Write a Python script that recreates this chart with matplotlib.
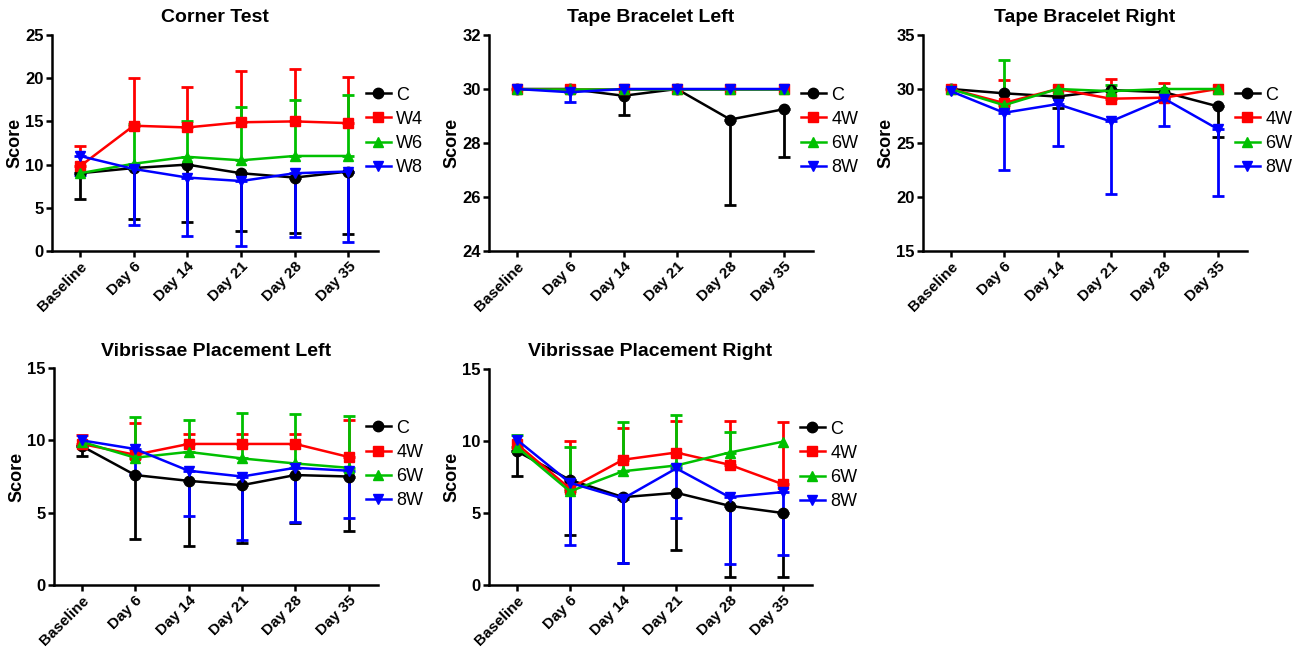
import numpy as np
import matplotlib
matplotlib.use("Agg")
import matplotlib.pyplot as plt

plt.rcParams['font.family'] = ['Liberation Sans', 'DejaVu Sans']

days = ["Baseline", "Day 6", "Day 14", "Day 21", "Day 28", "Day 35"]

# Corner Test
corner_c = [9.0, 9.6, 10.0, 9.0, 8.5, 9.2]
corner_c_err = [3.0, 5.9, 6.7, 6.7, 6.4, 7.2]
corner_w4 = [9.8, 14.5, 14.3, 14.9, 15.0, 14.8]
corner_w4_err = [2.3, 5.5, 4.7, 5.9, 6.1, 5.3]
corner_w6 = [9.0, 10.1, 10.9, 10.5, 11.0, 11.0]
corner_w6_err = [0, 4.6, 4.1, 6.2, 6.5, 7.0]
corner_w8 = [11.0, 9.5, 8.5, 8.1, 9.0, 9.2]
corner_w8_err = [2.2, 6.5, 6.8, 7.5, 7.4, 8.2]

# Tape Bracelet Left
tbl_c = [30, 30, 29.75, 30, 28.87, 29.25]
tbl_c_err = [0, 0, 0.7, 0, 3.17, 1.75]
tbl_4w = [30, 30, 30, 30, 30, 30]
tbl_4w_err = [0, 0, 0, 0, 0, 0]
tbl_6w = [30, 30, 30, 30, 30, 30]
tbl_6w_err = [0, 0, 0, 0, 0, 0]
tbl_8w = [30, 29.88, 30, 30, 30, 30]
tbl_8w_err = [0, 0.35, 0, 0, 0, 0]

# Tape Bracelet Right
tbr_c = [30, 29.6, 29.3, 29.9, 29.7, 28.4]
tbr_c_err = [0, 0, 1.1, 0, 0, 2.8]
tbr_4w = [30, 28.7, 30, 29.1, 29.2, 30]
tbr_4w_err = [0, 2.1, 0, 1.8, 1.4, 0]
tbr_6w = [30, 28.5, 30, 29.8, 30, 30]
tbr_6w_err = [0, 4.2, 0, 0.6, 0, 0]
tbr_8w = [29.8, 27.8, 28.6, 27.0, 29.1, 26.3]
tbr_8w_err = [0, 5.3, 3.9, 6.7, 2.5, 6.2]

# Vibrissae Placement Left
vpl_c = [9.6, 7.6, 7.2, 6.9, 7.6, 7.5]
vpl_c_err = [0.7, 4.4, 4.5, 4.0, 3.3, 3.8]
vpl_4w = [9.75, 9.0, 9.75, 9.75, 9.75, 8.85]
vpl_4w_err = [0.6, 2.2, 0.7, 0.7, 0.7, 2.55]
vpl_6w = [9.9, 8.8, 9.2, 8.75, 8.4, 8.1]
vpl_6w_err = [0, 2.8, 2.2, 3.15, 3.4, 3.6]
vpl_8w = [10.0, 9.4, 7.9, 7.5, 8.1, 7.9]
vpl_8w_err = [0, 1.7, 3.1, 4.4, 3.75, 3.3]

# Vibrissae Placement Right
vpr_c = [9.3, 7.3, 6.1, 6.4, 5.5, 5.0]
vpr_c_err = [1.7, 3.8, 4.6, 3.95, 4.95, 4.45]
vpr_4w = [9.8, 6.7, 8.7, 9.2, 8.35, 7.0]
vpr_4w_err = [0, 3.3, 2.2, 2.2, 3.05, 4.3]
vpr_6w = [9.6, 6.5, 7.9, 8.3, 9.2, 9.95]
vpr_6w_err = [0.8, 3.1, 3.4, 3.5, 1.4, 0]
vpr_8w = [10.1, 7.1, 6.0, 8.1, 6.1, 6.45]
vpr_8w_err = [0, 4.3, 4.5, 3.45, 4.65, 4.35]

colors = ["black", "#ff0000", "#00c000", "#0000ff"]
markers = ["o", "s", "^", "v"]
# error bar direction for C, 4W, 6W, 8W
directions = ["down", "up", "up", "down"]
labels_w = ["C", "W4", "W6", "W8"]
labels_n = ["C", "4W", "6W", "8W"]

panels = [
    ("Corner Test", [corner_c, corner_w4, corner_w6, corner_w8],
     [corner_c_err, corner_w4_err, corner_w6_err, corner_w8_err],
     labels_w, (0, 25), [0, 5, 10, 15, 20, 25],
     [52 / 1304, 401 / 652, 326 / 1304, 216 / 652]),
    ("Tape Bracelet Left", [tbl_c, tbl_4w, tbl_6w, tbl_8w],
     [tbl_c_err, tbl_4w_err, tbl_6w_err, tbl_8w_err],
     labels_n, (24, 32), [24, 26, 28, 30, 32],
     [489 / 1304, 401 / 652, 324 / 1304, 216 / 652]),
    ("Tape Bracelet Right", [tbr_c, tbr_4w, tbr_6w, tbr_8w],
     [tbr_c_err, tbr_4w_err, tbr_6w_err, tbr_8w_err],
     labels_n, (15, 35), [15, 20, 25, 30, 35],
     [923 / 1304, 401 / 652, 324 / 1304, 216 / 652]),
    ("Vibrissae Placement Left", [vpl_c, vpl_4w, vpl_6w, vpl_8w],
     [vpl_c_err, vpl_4w_err, vpl_6w_err, vpl_8w_err],
     labels_n, (0, 15), [0, 5, 10, 15],
     [54 / 1304, 67 / 652, 324 / 1304, 217 / 652]),
    ("Vibrissae Placement Right", [vpr_c, vpr_4w, vpr_6w, vpr_8w],
     [vpr_c_err, vpr_4w_err, vpr_6w_err, vpr_8w_err],
     labels_n, (0, 15), [0, 5, 10, 15],
     [489 / 1304, 67 / 652, 323 / 1304, 216 / 652]),
]

fig = plt.figure(figsize=(13.04, 6.52), dpi=100)
x = np.arange(len(days))

for title, series, errs, labels, ylim, yticks, rect in panels:
    ax = fig.add_axes(rect)
    for vals, err, col, mk, d, lab in zip(series, errs, colors, markers, directions, labels):
        vals = np.array(vals, dtype=float)
        err = np.array(err, dtype=float)
        ax.plot(x, vals, color=col, marker=mk, markersize=7.5, linewidth=1.8,
                label=lab, clip_on=False, zorder=3)
        m = err > 0
        if m.any():
            zeros = np.zeros(m.sum())
            yerr = [err[m], zeros] if d == "down" else [zeros, err[m]]
            ax.errorbar(x[m], vals[m], yerr=yerr, fmt="none", ecolor=col,
                        elinewidth=2, capsize=4, capthick=2, zorder=2, clip_on=False)
    ax.set_xlim(-0.52, 5.55)
    ax.set_ylim(*ylim)
    ax.set_yticks(yticks)
    ax.set_xticks(x)
    ax.set_xticklabels(days, rotation=45, ha="right", rotation_mode="anchor",
                       fontsize=11, fontweight="bold")
    for t in ax.get_yticklabels():
        t.set_fontsize(12)
        t.set_fontweight("bold")
    ax.spines["top"].set_visible(False)
    ax.spines["right"].set_visible(False)
    ax.spines["left"].set_linewidth(1.8)
    ax.spines["bottom"].set_linewidth(1.8)
    ax.tick_params(width=1.8, length=4, pad=2)
    ax.set_ylabel("Score", fontsize=13, fontweight="bold", labelpad=1)
    ax.set_title(title, fontsize=14, fontweight="bold", pad=9)
    ax.legend(loc="upper left", bbox_to_anchor=(0.94, 0.795), frameon=False,
              fontsize=13, handlelength=1.4, handletextpad=0.3, labelspacing=0.4,
              borderaxespad=0)

fig.savefig("out.png", dpi=100)
